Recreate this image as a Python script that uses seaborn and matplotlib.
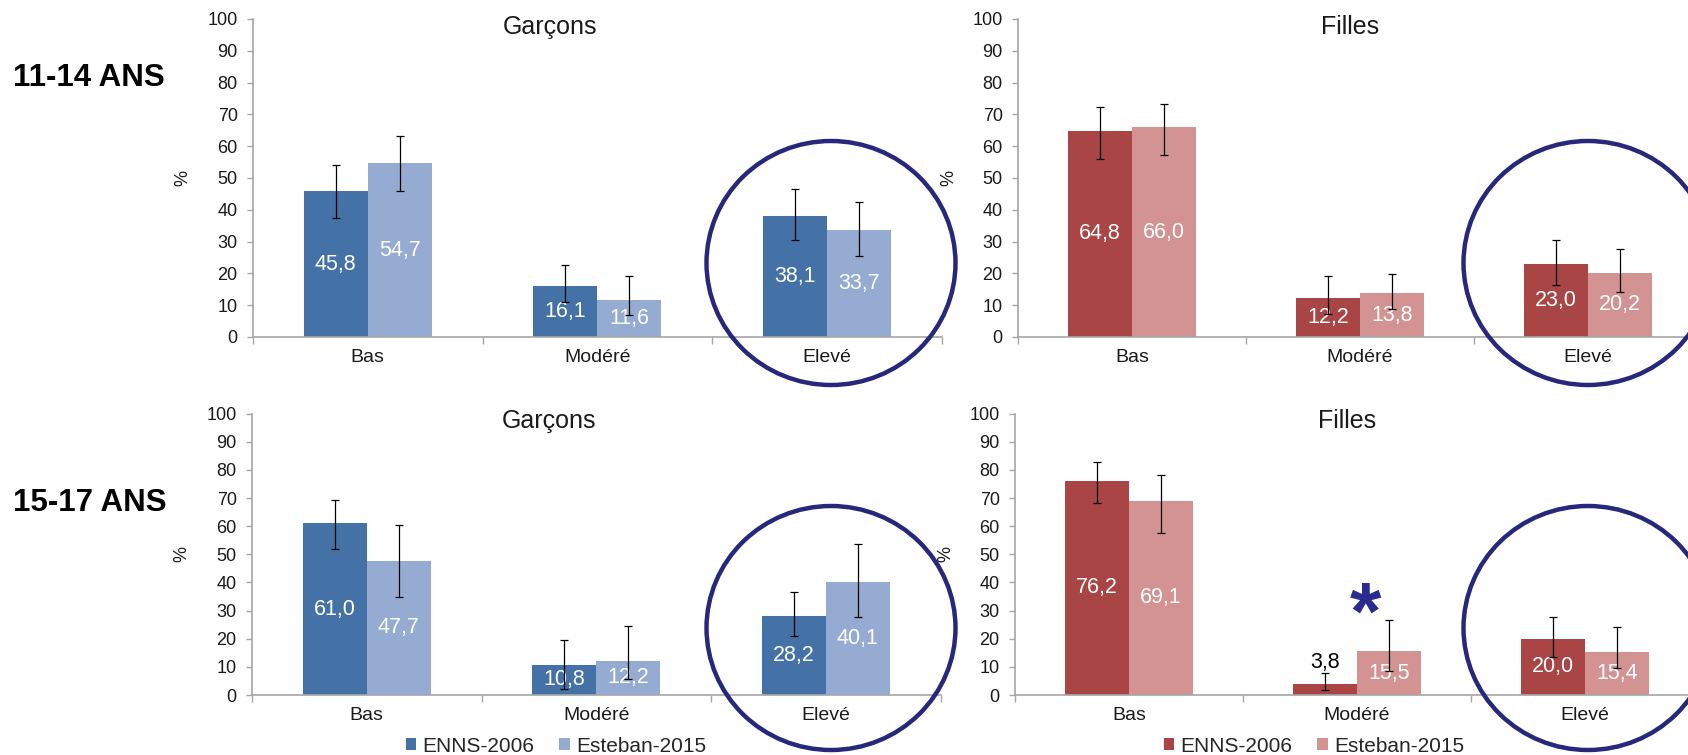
import matplotlib
matplotlib.use("Agg")
import matplotlib.pyplot as plt
import pandas as pd
import seaborn as sns
from matplotlib.patches import Ellipse, Patch

# ---- data -------------------------------------------------------------
categories = ["Bas", "Modéré", "Elevé"]
surveys = ["ENNS-2006", "Esteban-2015"]

garcons_1114_enns = [45.8, 16.1, 38.1]
garcons_1114_esteban = [54.7, 11.6, 33.7]
filles_1114_enns = [64.8, 12.2, 23.0]
filles_1114_esteban = [66.0, 13.8, 20.2]
garcons_1517_enns = [61.0, 10.8, 28.2]
garcons_1517_esteban = [47.7, 12.2, 40.1]
filles_1517_enns = [76.2, 3.8, 20.0]
filles_1517_esteban = [69.1, 15.5, 15.4]

# 95% confidence bounds (low, high)
garcons_1114_enns_ci = ([37.4, 10.9, 30.4], [54.2, 22.5, 46.6])
garcons_1114_esteban_ci = ([45.8, 6.8, 25.4], [63.3, 19.1, 42.4])
filles_1114_enns_ci = ([56.1, 7.3, 16.4], [72.2, 19.1, 30.4])
filles_1114_esteban_ci = ([57.2, 8.7, 14.1], [73.4, 19.7, 27.6])
garcons_1517_enns_ci = ([51.8, 2.0, 20.9], [69.3, 19.7, 36.6])
garcons_1517_esteban_ci = ([34.7, 5.7, 27.8], [60.5, 24.4, 53.8])
filles_1517_enns_ci = ([68.2, 1.8, 13.6], [82.7, 7.7, 27.9])
filles_1517_esteban_ci = ([57.7, 8.6, 9.6], [78.1, 26.5, 24.1])

y_ticks = list(range(0, 101, 10))
age_groups = ["11-14 ANS", "15-17 ANS"]

# ---- style ------------------------------------------------------------
sns.set_style("white")
plt.rcParams["font.family"] = ["Liberation Sans", "DejaVu Sans"]

BLUES = ["#4472a7", "#95abd1"]
REDS = ["#a94544", "#d39392"]
AXIS_GREY = "#a6a6a6"
NAVY = "#27287c"
W, H = 1688, 755

fig = plt.figure(figsize=(W / 100, H / 100), dpi=100)


def px_rect(x0, x1, ytop, ybot):
    return [x0 / W, 1 - ybot / H, (x1 - x0) / W, (ybot - ytop) / H]


panels = [
    (px_rect(253, 941.5, 19, 337), "Garçons", 0.432, garcons_1114_enns, garcons_1114_esteban,
     garcons_1114_enns_ci, garcons_1114_esteban_ci, BLUES),
    (px_rect(1018, 1702, 19, 337), "Filles", 0.486, filles_1114_enns, filles_1114_esteban,
     filles_1114_enns_ci, filles_1114_esteban_ci, REDS),
    (px_rect(252, 940.5, 413.7, 695), "Garçons", 0.432, garcons_1517_enns, garcons_1517_esteban,
     garcons_1517_enns_ci, garcons_1517_esteban_ci, BLUES),
    (px_rect(1015, 1699, 413.7, 695), "Filles", 0.486, filles_1517_enns, filles_1517_esteban,
     filles_1517_enns_ci, filles_1517_esteban_ci, REDS),
]

axes = []
for rect, title, title_x, enns, est, enns_ci, est_ci, pal in panels:
    ax = fig.add_axes(rect)
    df = pd.DataFrame({
        "niveau": categories * 2,
        "enquete": [surveys[0]] * 3 + [surveys[1]] * 3,
        "pct": enns + est,
    })
    sns.barplot(data=df, x="niveau", y="pct", hue="enquete", order=categories,
                hue_order=surveys, palette=pal, saturation=1, width=0.558,
                errorbar=None, linewidth=0, legend=False, ax=ax, zorder=2)

    for cont, vals, (lo, hi) in zip(ax.containers, [enns, est], [enns_ci, est_ci]):
        for bar, v, l, h in zip(cont, vals, lo, hi):
            xc = bar.get_x() + bar.get_width() / 2
            ax.errorbar(xc, v, yerr=[[v - l], [h - v]], fmt="none", ecolor="black",
                        elinewidth=0.9, capsize=3.2, capthick=0.9, zorder=4)
            txt = f"{v:.1f}".replace(".", ",")
            if v >= 8:
                ax.text(xc, v / 2, txt, color="white", ha="center", va="center",
                        fontsize=15.5, zorder=3)
            else:
                ax.text(xc, h + 4, txt, color="black", ha="center", va="center",
                        fontsize=15.5, zorder=3)

    ax.set_xlim(-0.5, 2.5)
    ax.set_ylim(0, 100)
    ax.set_yticks(y_ticks)
    ax.set_xticks([-0.5, 0.5, 1.5, 2.5], minor=True)
    for side in ("top", "right"):
        ax.spines[side].set_visible(False)
    for side in ("left", "bottom"):
        ax.spines[side].set_color(AXIS_GREY)
        ax.spines[side].set_linewidth(1.2)
    ax.tick_params(axis="y", left=True, length=4, width=1, color=AXIS_GREY,
                   direction="out", pad=7, labelsize=13, labelcolor="#1a1a1a")
    ax.tick_params(axis="x", which="major", bottom=True, length=0, pad=9,
                   labelsize=14, labelcolor="#1a1a1a")
    ax.tick_params(axis="x", which="minor", bottom=True, length=5, width=1,
                   color=AXIS_GREY, direction="out")
    ax.set_xlabel("")
    ax.set_ylabel("%", fontsize=13, color="#1a1a1a")
    ax.yaxis.set_label_coords(-0.089, 0.5)
    ax.text(title_x, 0.975, title, transform=ax.transAxes, ha="center", va="center",
            fontsize=18, color="#1a1a1a")
    axes.append(ax)

# significance marker on Esteban "Modéré", 15-17 girls
axes[3].text(1.035, 27.5, "*", color="#2b2b8f", fontsize=58, fontweight="bold",
             ha="center", va="center", zorder=5)

# age group headings
for label, yc in zip(age_groups, [77.5, 503]):
    fig.text(13 / W, 1 - yc / H, label, fontsize=22.5, fontweight="bold",
             ha="left", va="center", color="black")

# legends under the lower panels
for pal, cx in [(BLUES, 556), (REDS, 1314)]:
    handles = [Patch(facecolor=c, edgecolor="none") for c in pal]
    fig.legend(handles, surveys, loc="center", bbox_to_anchor=(cx / W, 9 / H),
               ncol=2, frameon=False, fontsize=15, handlelength=0.5,
               handleheight=0.5, handletextpad=0.3, columnspacing=1.2,
               borderaxespad=0, borderpad=0)

# highlight rings around the "Elevé" groups
for cx, cy, ew, eh in [(831, 263, 249, 244), (1588, 263, 249, 244),
                       (831, 628, 249, 244), (1588, 628, 249, 244)]:
    fig.add_artist(Ellipse((cx / W, 1 - cy / H), ew / W, eh / H,
                           transform=fig.transFigure, fill=False,
                           edgecolor=NAVY, linewidth=3.2, zorder=10))

fig.savefig("out.png", dpi=100)
